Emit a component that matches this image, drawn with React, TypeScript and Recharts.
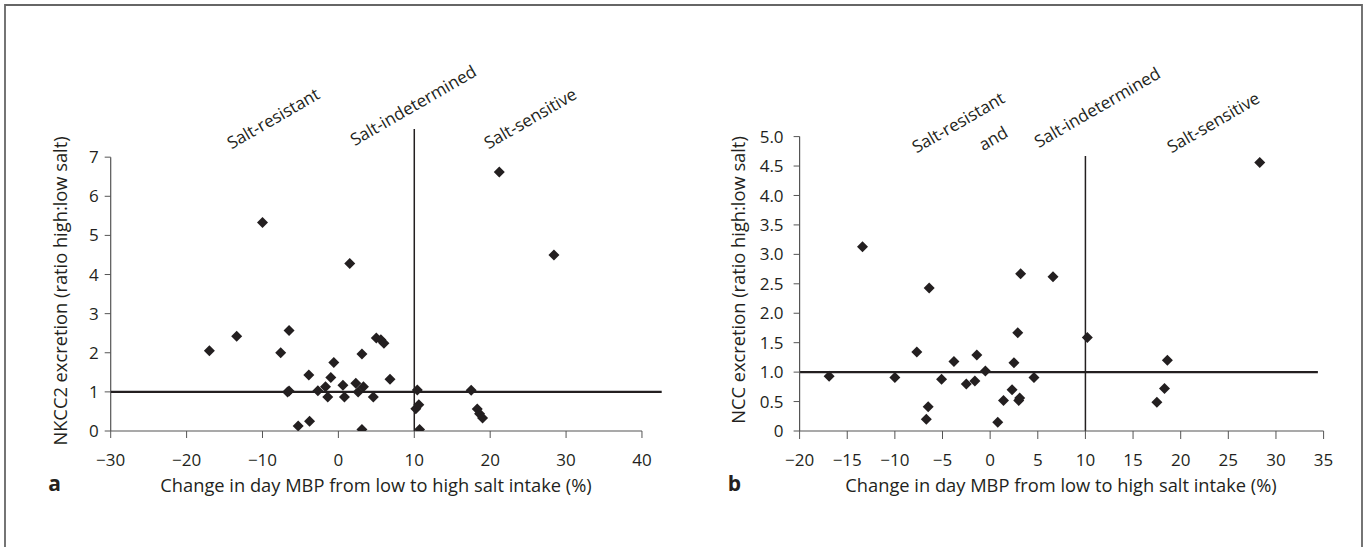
import { ScatterChart, Scatter, XAxis, YAxis, ReferenceLine } from 'recharts';

// panel a: NKCC2 excretion vs change in day MBP
const nkccX = [
  -17.0, -13.4, -10.0, -6.5, -7.6, -6.7, -6.5, -3.9, -5.3, -3.8,
  -2.7, -1.7, -1.4, -1.0, -0.6, 0.6, 0.8, 1.5, 2.3, 2.6,
  3.3, 3.1, 3.1, 4.6, 5.0, 5.6, 6.0, 6.8, 10.4, 10.2,
  10.6, 10.7, 21.2, 28.4, 17.5, 18.3, 18.6, 19.0,
];
const nkccY = [
  2.05, 2.42, 5.33, 2.57, 2.0, 1.0, 1.02, 1.43, 0.13, 0.25,
  1.03, 1.13, 0.87, 1.37, 1.75, 1.17, 0.87, 4.28, 1.22, 1.0,
  1.13, 1.97, 0.04, 0.87, 2.38, 2.33, 2.24, 1.32, 1.05, 0.57,
  0.67, 0.04, 6.62, 4.5, 1.04, 0.56, 0.44, 0.33,
];

// panel b: NCC excretion vs change in day MBP
const nccX = [
  -16.9, -13.4, -10.0, -6.4, -7.7, -5.1, -6.5, -6.7, -3.8, -2.5,
  -1.6, -1.4, -0.5, 0.8, 1.4, 2.3, 2.5, 2.9, 3.0, 3.1,
  3.2, 4.6, 6.6, 10.2, 28.3, 18.6, 18.3, 17.5,
];
const nccY = [
  0.93, 3.13, 0.91, 2.43, 1.34, 0.88, 0.41, 0.2, 1.18, 0.8,
  0.85, 1.29, 1.02, 0.15, 0.52, 0.7, 1.16, 1.67, 0.52, 0.56,
  2.67, 0.91, 2.62, 1.59, 4.56, 1.2, 0.72, 0.49,
];

const ticksAx = [-30, -20, -10, 0, 10, 20, 30, 40];
const ticksAy = [0, 1, 2, 3, 4, 5, 6, 7];
const ticksBx = [-20, -15, -10, -5, 0, 5, 10, 15, 20, 25, 30, 35];
const ticksBy = [0, 0.5, 1, 1.5, 2, 2.5, 3, 3.5, 4, 4.5, 5];

const groupsA = ['Salt-resistant', 'Salt-indetermined', 'Salt-sensitive'];
const groupsB = ['Salt-resistant', 'and', 'Salt-indetermined', 'Salt-sensitive'];

const dataA = nkccX.map((x, i) => ({ x, y: nkccY[i] }));
const dataB = nccX.map((x, i) => ({ x, y: nccY[i] }));

const FONT = '"Open Sans", sans-serif';
const INK = '#231f20';
const AXIS = '#555';

const minus = (v: number) => (v < 0 ? '\u2212' + Math.abs(v) : String(v));
const oneDec = (v: number) => (v === 0 ? '0' : v.toFixed(1));

const Diamond = (props: any) => {
  const { cx, cy } = props;
  const r = 5.5;
  return <path d={`M${cx},${cy - r}L${cx + r},${cy}L${cx},${cy + r}L${cx - r},${cy}Z`} fill={INK} />;
};

const tickStyle = { fontFamily: FONT, fontSize: 17, fill: INK };

export default function App() {
  return (
    <div style={{ position: 'absolute', left: 0, top: 0, width: 1368, height: 547, overflow: 'hidden', background: '#fff' }}>
      <div style={{ position: 'absolute', left: 0, top: 0 }}>
        <ScatterChart width={684} height={547} margin={{ top: 129, right: 22.3, bottom: 0, left: 60 }}>
          <XAxis
            type="number" dataKey="x" domain={[-30, 42.6]} ticks={ticksAx} tickFormatter={minus}
            axisLine={false} tickSize={7} tickMargin={16} height={116}
            tick={tickStyle} tickLine={{ stroke: AXIS }} allowDataOverflow
          />
          <YAxis
            type="number" dataKey="y" domain={[0, 7.72]} ticks={ticksAy}
            axisLine={false} tickSize={6} tickMargin={6} width={50.7}
            tick={tickStyle} tickLine={{ stroke: AXIS }} allowDataOverflow
          />
          <ReferenceLine segment={[{ x: -30, y: 0 }, { x: 40, y: 0 }]} stroke={AXIS} strokeWidth={1.2} />
          <ReferenceLine segment={[{ x: -30, y: 0 }, { x: -30, y: 7 }]} stroke={AXIS} strokeWidth={1.2} />
          <ReferenceLine y={1} stroke={INK} strokeWidth={2.2} />
          <ReferenceLine x={10} stroke={INK} strokeWidth={1.5} />
          <Scatter data={dataA} shape={<Diamond />} isAnimationActive={false} />
        </ScatterChart>
      </div>
      <div style={{ position: 'absolute', left: 684, top: 0 }}>
        <ScatterChart width={684} height={547} margin={{ top: 136.6, right: 44.4, bottom: 0, left: 60 }}>
          <XAxis
            type="number" dataKey="x" domain={[-20, 35]} ticks={ticksBx} tickFormatter={minus}
            axisLine={{ stroke: AXIS, strokeWidth: 1.2 }} tickSize={8} tickMargin={15} height={116}
            tick={tickStyle} tickLine={{ stroke: AXIS }}
          />
          <YAxis
            type="number" dataKey="y" domain={[0, 5]} ticks={ticksBy} tickFormatter={oneDec}
            axisLine={{ stroke: AXIS, strokeWidth: 1.2 }} tickSize={6} tickMargin={10} width={55.6}
            tick={tickStyle} tickLine={{ stroke: AXIS }}
          />
          <ReferenceLine segment={[{ x: -20, y: 1 }, { x: 34.4, y: 1 }]} stroke={INK} strokeWidth={2.2} />
          <ReferenceLine segment={[{ x: 10, y: 0 }, { x: 10, y: 4.67 }]} stroke={INK} strokeWidth={1.5} />
          <Scatter data={dataB} shape={<Diamond />} isAnimationActive={false} />
        </ScatterChart>
      </div>
      <svg width={1368} height={547} style={{ position: 'absolute', left: 0, top: 0, pointerEvents: 'none' }}>
        <path d="M5,560V5H1362V560" fill="none" stroke="#666" strokeWidth={1.8} />
        <g fontFamily={FONT} fill={INK} fontSize={18.3} textAnchor="middle" dominantBaseline="central">
          <text x={376} y={484}>Change in day MBP from low to high salt intake (%)</text>
          <text x={1061} y={484}>Change in day MBP from low to high salt intake (%)</text>
          <text transform="translate(59,291) rotate(-90)">NKCC2 excretion (ratio high:low salt)</text>
          <text transform="translate(737,280) rotate(-90)">NCC excretion (ratio high:low salt)</text>
          <text x={54.5} y={483} fontWeight="bold" fontSize={21}>a</text>
          <text x={734.5} y={483} fontWeight="bold" fontSize={21}>b</text>
        </g>
        <g fontFamily={FONT} fill={INK} fontSize={17} textAnchor="middle" dominantBaseline="central">
          <text transform="translate(273,118) rotate(-30)">{groupsA[0]}</text>
          <text transform="translate(413,105) rotate(-30)">{groupsA[1]}</text>
          <text transform="translate(530,118) rotate(-30)">{groupsA[2]}</text>
          <text transform="translate(958,122) rotate(-30)">{groupsB[0]}</text>
          <text transform="translate(993,138) rotate(-30)">{groupsB[1]}</text>
          <text transform="translate(1097,107) rotate(-30)">{groupsB[2]}</text>
          <text transform="translate(1213,122) rotate(-30)">{groupsB[3]}</text>
        </g>
      </svg>
    </div>
  );
}
